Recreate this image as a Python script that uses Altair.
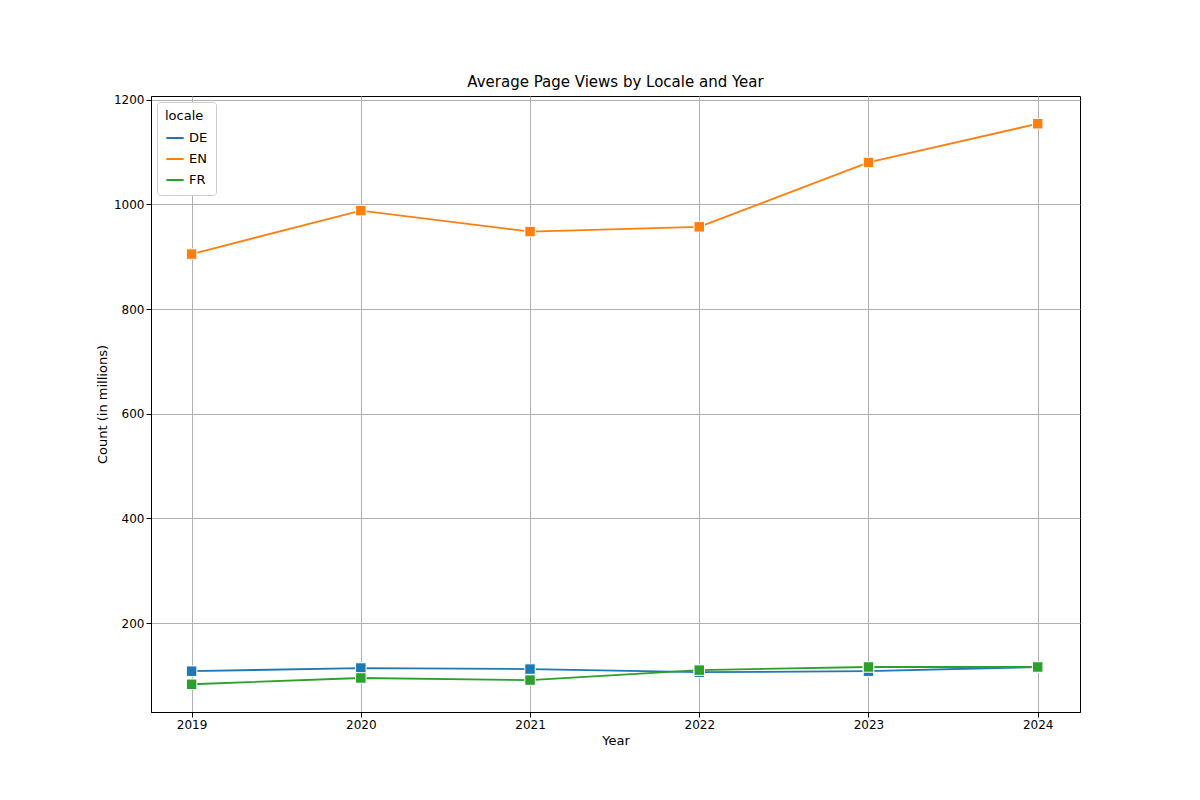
import pandas as pd
import altair as alt

years = [2019, 2020, 2021, 2022, 2023, 2024]
de = [108, 114, 112, 106, 108, 116]
en = [905, 988, 948, 957, 1080, 1154]
fr = [83, 95, 91, 110, 116, 116]

rows = []
for loc, vals in [("DE", de), ("EN", en), ("FR", fr)]:
    for y, v in zip(years, vals):
        rows.append({"Year": y, "views": v, "locale": loc})
df = pd.DataFrame(rows)

color = alt.Color("locale:N", scale=alt.Scale(domain=["DE", "EN", "FR"],
                  range=["#1f77b4", "#ff7f0e", "#2ca02c"]),
                  legend=alt.Legend(orient="none", legendX=6, legendY=6, title="locale",
                                    symbolType="stroke", strokeColor="#ccc", fillColor="white",
                                    padding=8, cornerRadius=3, labelFontSize=13, titleFontSize=13,
                                    titleFontWeight="normal", symbolStrokeWidth=2, symbolSize=300,
                                    rowPadding=4))

x = alt.X("Year:Q", scale=alt.Scale(domain=[2018.76, 2024.25], nice=False, zero=False),
          axis=alt.Axis(values=years, format="d", grid=True, labelFontSize=12,
                        titleFontSize=13, titleFontWeight="normal"))
y = alt.Y("views:Q", scale=alt.Scale(domain=[30, 1207], nice=False, zero=False),
          axis=alt.Axis(values=[200, 400, 600, 800, 1000, 1200], format="d", grid=True,
                        labelFontSize=12, titleFontSize=13, titleFontWeight="normal"),
          title="Count (in millions)")

base = alt.Chart(df).encode(x=x, y=y, color=color)
lines = base.mark_line(strokeWidth=1.8)
pts = base.mark_point(shape="square", filled=True, size=110, stroke="white",
                      strokeWidth=1, opacity=1)

chart = (lines + pts).properties(
    width=929, height=616,
    title=alt.Title("Average Page Views by Locale and Year", fontSize=15, fontWeight="normal"),
    autosize=alt.AutoSizeParams(type="none"),
    padding={"left": 143, "top": 88, "right": 100, "bottom": 80},
).configure_axis(
    gridColor="#b0b0b0", domainColor="black", tickColor="black", labelColor="black",
    titleColor="black", labelFont="DejaVu Sans", titleFont="DejaVu Sans"
).configure_view(stroke="black", strokeWidth=1).configure_legend(
    labelFont="DejaVu Sans", titleFont="DejaVu Sans"
).configure_title(font="DejaVu Sans")

chart.save("out.html", embed_options={"renderer": "svg", "actions": False})
